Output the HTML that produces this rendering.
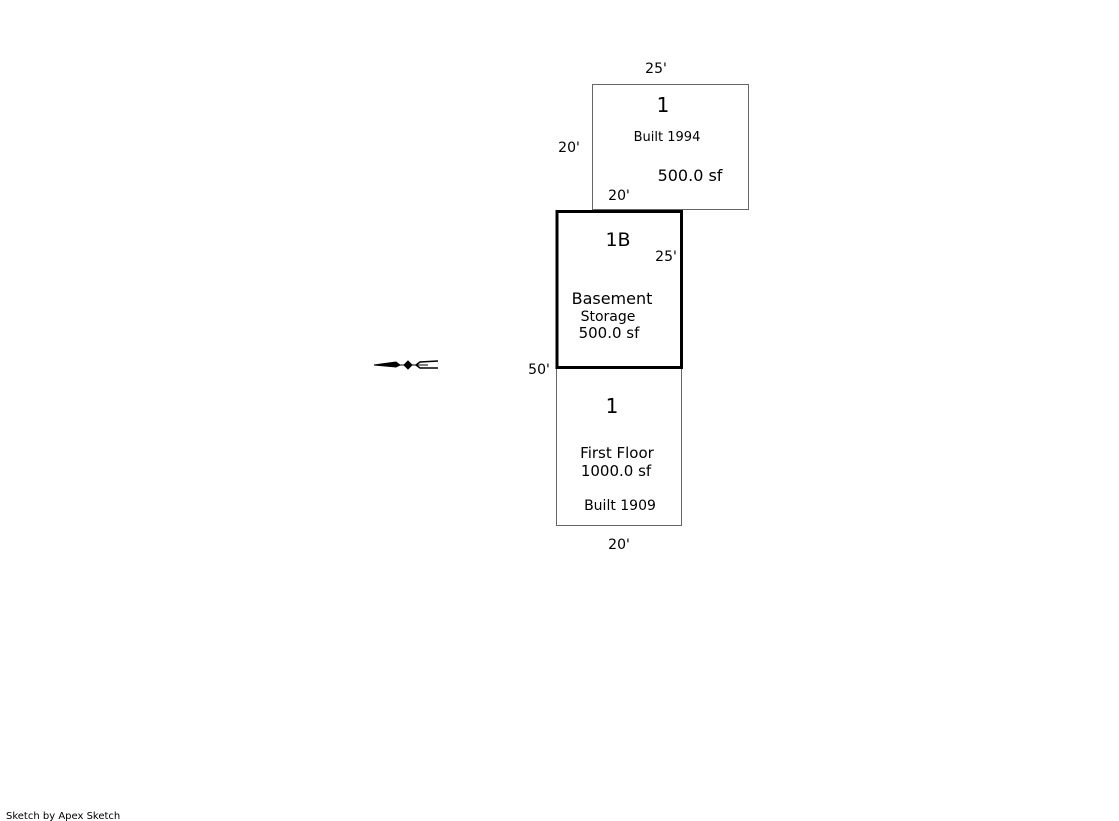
<!DOCTYPE html>
<html><head><style>
html,body{margin:0;padding:0;background:#fff;}
svg{display:block;}
text{font-family:"DejaVu Sans","Liberation Sans",sans-serif;fill:#000;}
</style></head><body>
<svg width="1119" height="821" viewBox="0 0 1119 821" xmlns="http://www.w3.org/2000/svg">
<rect x="592.5" y="84.5" width="156" height="125" fill="none" stroke="#666" stroke-width="1"/>
<rect x="556.5" y="368.5" width="125" height="157" fill="none" stroke="#666" stroke-width="1"/>
<rect x="557" y="211.5" width="124.5" height="156" fill="none" stroke="#000" stroke-width="3"/>
<text x="656" y="73" text-anchor="middle" font-size="14">25'</text>
<text x="663" y="112" text-anchor="middle" font-size="20">1</text>
<text x="667" y="141" text-anchor="middle" font-size="13">Built 1994</text>
<text x="569" y="152" text-anchor="middle" font-size="14">20'</text>
<text x="690" y="181" text-anchor="middle" font-size="16">500.0 sf</text>
<text x="619" y="200" text-anchor="middle" font-size="14">20'</text>
<text x="618" y="246" text-anchor="middle" font-size="19">1B</text>
<text x="666" y="261" text-anchor="middle" font-size="14">25'</text>
<text x="612" y="304" text-anchor="middle" font-size="16">Basement</text>
<text x="608" y="321" text-anchor="middle" font-size="14">Storage</text>
<text x="609" y="338" text-anchor="middle" font-size="15">500.0 sf</text>
<text x="539" y="374" text-anchor="middle" font-size="14">50'</text>
<text x="612" y="413" text-anchor="middle" font-size="20">1</text>
<text x="617" y="458" text-anchor="middle" font-size="15">First Floor</text>
<text x="616" y="476" text-anchor="middle" font-size="15">1000.0 sf</text>
<text x="620" y="510" text-anchor="middle" font-size="14">Built 1909</text>
<text x="619" y="549" text-anchor="middle" font-size="14">20'</text>
<g stroke="#000" fill="#000">
<polygon points="374,365 396,362 400,365 396,367" stroke-width="1"/>
<line x1="400" y1="365" x2="428" y2="365" stroke-width="1"/>
<polygon points="408,361 412,365 408,369 404,365"/>
<polyline points="438,361 420,362 416,365 420,368 438,368" fill="none" stroke-width="1.5"/>
</g>
<text x="6" y="819" font-size="10" font-family="Liberation Sans,sans-serif">Sketch by Apex Sketch</text>
</svg>
</body></html>
